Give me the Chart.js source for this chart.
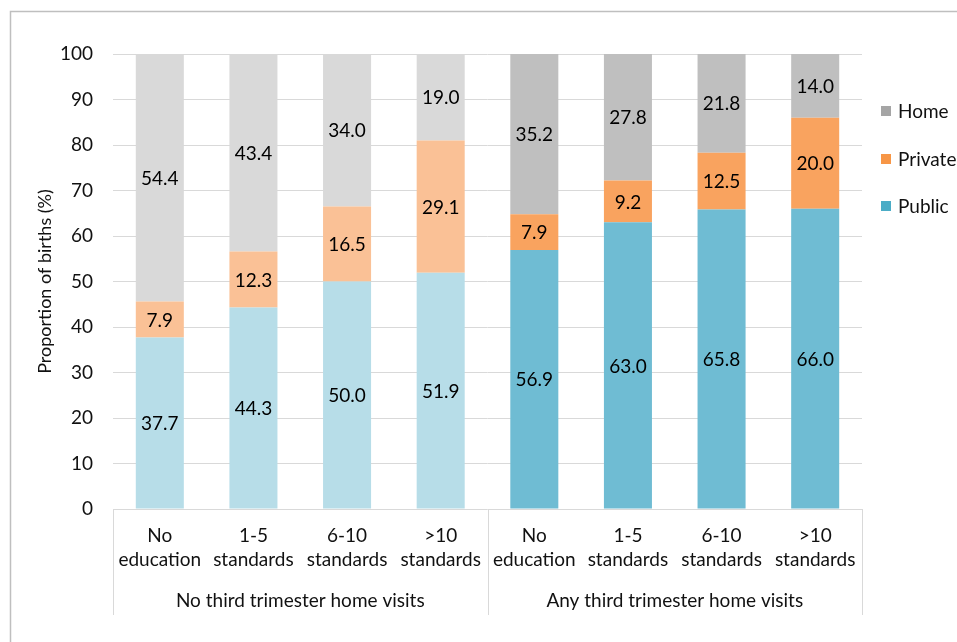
<!DOCTYPE html>
<html>
<head>
<meta charset="utf-8">
<script src="https://cdn.jsdelivr.net/npm/chart.js@4.4.0/dist/chart.umd.min.js"></script>
<style>
  html, body { margin: 0; padding: 0; background: #fff; }
  #wrap { position: relative; width: 957px; height: 642px; }
</style>
</head>
<body>
<div id="wrap"><canvas id="births" width="957" height="642"></canvas></div>
<script>
  // categories (education), groups and series
  const categories = [
    ['No', 'education'], ['1-5', 'standards'], ['6-10', 'standards'], ['>10', 'standards'],
    ['No', 'education'], ['1-5', 'standards'], ['6-10', 'standards'], ['>10', 'standards']
  ];
  const groups = ['No third trimester home visits', 'Any third trimester home visits'];
  const publicBirths  = [37.7, 44.3, 50.0, 51.9, 56.9, 63.0, 65.8, 66.0];
  const privateBirths = [7.9, 12.3, 16.5, 29.1, 7.9, 9.2, 12.5, 20.0];
  const homeBirths    = [54.4, 43.4, 34.0, 19.0, 35.2, 27.8, 21.8, 14.0];

  const FONT = 'Lato, "Open Sans", sans-serif';
  const TXT = '#111';

  // light shade for first group, full shade for second
  function shades(light, dark) {
    return categories.map((c, i) => i < 4 ? light : dark);
  }

  const ctx = document.getElementById('births');

  // labels inside each segment
  const segmentLabels = {
    id: 'segmentLabels',
    afterDatasetsDraw(chart) {
      const c = chart.ctx;
      c.save();
      c.font = '19px ' + FONT;
      c.fillStyle = '#000';
      c.textAlign = 'center';
      c.textBaseline = 'middle';
      chart.data.datasets.forEach((ds, di) => {
        chart.getDatasetMeta(di).data.forEach((bar, i) => {
          const top = Math.max(bar.y, chart.chartArea.top);
          c.fillText(ds.data[i].toFixed(1), bar.x, (top + bar.base) / 2 + 1);
        });
      });
      c.restore();
    }
  };

  // group row, separators, frame and legend
  const extras = {
    id: 'extras',
    afterDraw(chart) {
      const c = chart.ctx;
      const x = chart.scales.x;
      const area = chart.chartArea;
      const mid = (x.getPixelForValue(3) + x.getPixelForValue(4)) / 2;
      c.save();
      c.strokeStyle = '#d9d9d9';
      c.lineWidth = 1;
      [area.left, mid, area.right].forEach(px => {
        c.beginPath();
        c.moveTo(Math.round(px) + 0.5, area.bottom);
        c.lineTo(Math.round(px) + 0.5, 615);
        c.stroke();
      });
      c.font = '19px ' + FONT;
      c.fillStyle = TXT;
      c.textAlign = 'center';
      c.textBaseline = 'middle';
      c.fillText(groups[0], (area.left + mid) / 2, 601);
      c.fillText(groups[1], (mid + area.right) / 2, 601);

      // outer frame
      c.strokeStyle = '#bfbfbf';
      c.lineWidth = 1.5;
      c.beginPath();
      c.moveTo(10.5, 642);
      c.lineTo(10.5, 11.5);
      c.lineTo(957, 11.5);
      c.stroke();

      // legend, reversed order
      const keys = [
        { ds: 2, color: '#a5a5a5', y: 111 },
        { ds: 1, color: '#f79646', y: 159 },
        { ds: 0, color: '#4bacc6', y: 206 }
      ];
      c.textAlign = 'left';
      keys.forEach(k => {
        c.fillStyle = k.color;
        c.fillRect(881, k.y - 5, 10, 10);
        c.fillStyle = TXT;
        c.fillText(chart.data.datasets[k.ds].label, 898, k.y + 1);
      });
      c.restore();
    }
  };

  new Chart(ctx, {
    type: 'bar',
    data: {
      labels: categories,
      datasets: [
        { label: 'Public', data: publicBirths, backgroundColor: shades('#b7dde8', '#6fbcd3') },
        { label: 'Private', data: privateBirths, backgroundColor: shades('#fac196', '#f9a35f') },
        { label: 'Home', data: homeBirths, backgroundColor: shades('#d9d9d9', '#bfbfbf') }
      ]
    },
    options: {
      responsive: false,
      animation: false,
      maintainAspectRatio: false,
      layout: { padding: { left: 0, top: 54, right: 95, bottom: 0 } },
      datasets: { bar: { categoryPercentage: 1, barPercentage: 0.513 } },
      plugins: { legend: { display: false }, tooltip: { enabled: false } },
      scales: {
        x: {
          stacked: true,
          grid: { display: false },
          border: { display: false },
          ticks: {
            color: TXT, padding: 7, maxRotation: 0, autoSkip: false,
            font: { family: FONT, size: 19, lineHeight: 1.263 }
          },
          afterFit(scale) { scale.height = 133; }
        },
        y: {
          stacked: true,
          min: 0, max: 100,
          grid: { color: '#d9d9d9', drawTicks: false },
          border: { display: false },
          ticks: {
            stepSize: 10, color: TXT, padding: 20,
            font: { family: FONT, size: 19 }
          },
          title: {
            display: true, text: 'Proportion of births (%)', color: TXT,
            padding: { top: 34, bottom: 0 },
            font: { family: FONT, size: 18, lineHeight: 1.2 }
          },
          afterFit(scale) { scale.width = 113; }
        }
      }
    },
    plugins: [segmentLabels, extras]
  });
</script>
</body>
</html>
